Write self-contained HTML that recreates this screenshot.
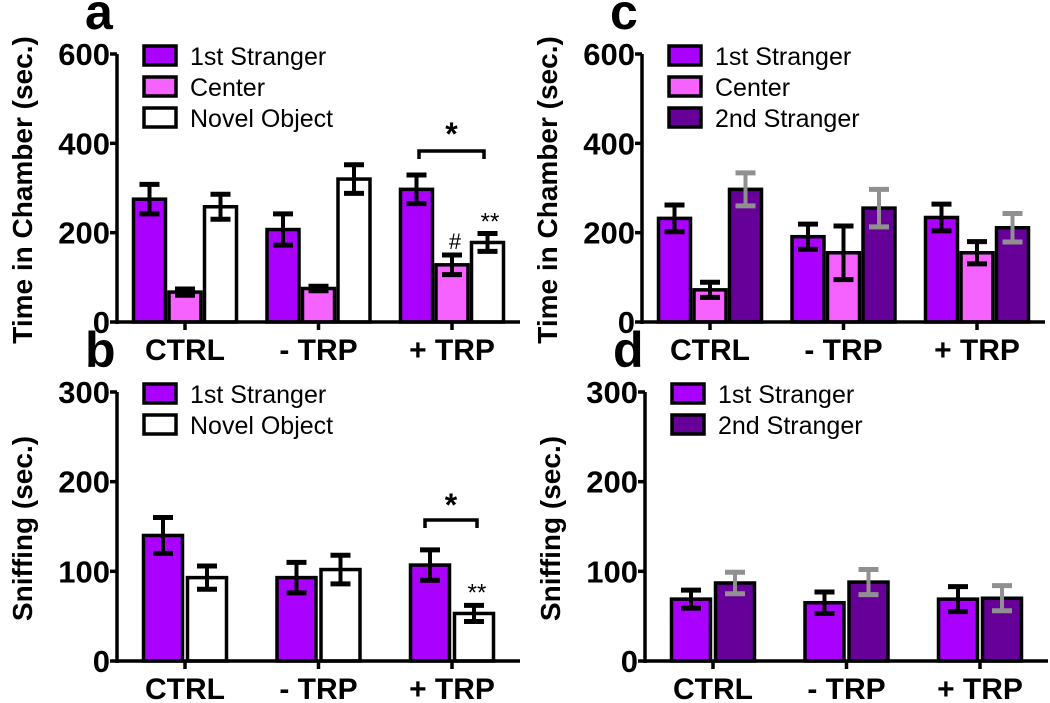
<!DOCTYPE html>
<html><head><meta charset="utf-8"><style>
html,body{margin:0;padding:0;background:#fff;width:1050px;height:703px;overflow:hidden}
svg text{font-family:"Liberation Sans",Arial,sans-serif}
</style></head><body>
<svg id="fig" width="1050" height="703" viewBox="0 0 1050 703" xmlns="http://www.w3.org/2000/svg"></svg>
<script>
const groups = ["CTRL", "- TRP", "+ TRP"];
const aSeries = ["1st Stranger", "Center", "Novel Object"];
const aMeans = [[275, 207, 297], [67, 75, 128], [258, 320, 178]];
const aErrs = [[33, 35, 32], [7, 5, 22], [28, 32, 20]];
const cSeries = ["1st Stranger", "Center", "2nd Stranger"];
const cMeans = [[232, 191, 234], [72, 155, 155], [297, 255, 211]];
const cErrs = [[30, 28, 30], [17, 60, 25], [37, 42, 32]];
const bSeries = ["1st Stranger", "Novel Object"];
const bMeans = [[140, 93, 107], [93, 102, 53]];
const bErrs = [[20, 17, 17], [13, 16, 9]];
const dSeries = ["1st Stranger", "2nd Stranger"];
const dMeans = [[69, 65, 69], [87, 88, 70]];
const dErrs = [[10, 12, 14], [12, 14, 14]];
const topTicks = [0, 200, 400, 600];
const botTicks = [0, 100, 200, 300];

const NS = "http://www.w3.org/2000/svg";
const svg = document.getElementById("fig");
const COL = {"1st Stranger":"#aa00ff","Center":"#f562ff","Novel Object":"#ffffff","2nd Stranger":"#660099"};
function mk(tag, attrs, parent){const e=document.createElementNS(NS,tag);for(const k in attrs)e.setAttribute(k,attrs[k]);(parent||svg).appendChild(e);return e;}

function panel(o){
  const g = mk("g",{});
  
  
  const ax=o.ax, y0=o.y0, yTop=o.yTop, max=o.ticks[o.ticks.length-1];
  const Y = v => y0 - (v/max)*(y0-yTop);
  const X = i => o.c0 + i*o.gstep;
  const lt = mk("text",{x:ax-32,y:yTop-25,"font-size":50,"font-weight":"bold"},g); lt.textContent=o.letter;
  
  
  const yt = mk("text",{x:0,y:0,"font-size":28,"font-weight":"bold","text-anchor":"middle",transform:`translate(${ax-85},${(y0+yTop)/2+2}) rotate(-90)`},g); yt.textContent=o.ytitle;
  
  
  const n=o.series.length;
  o.series.forEach((s,si)=>{
    groups.forEach((gname,gi)=>{
      const v=o.means[si][gi], e=o.errs[si][gi];
      const x = X(gi) - (n*o.step)/2 + si*o.step + (o.step-o.bw)/2;
      const r = mk("rect",{x:x,y:Y(v),width:o.bw,height:y0-Y(v),fill:COL[s],stroke:"#000","stroke-width":3.5},g);
      
      
      const ec = s==="2nd Stranger" ? "#909090" : "#000";
      const cx = x+o.bw/2;
      mk("line",{x1:cx,x2:cx,y1:Y(v+e),y2:Y(v-e),stroke:ec,"stroke-width":4},g);
      mk("line",{x1:cx-10,x2:cx+10,y1:Y(v+e),y2:Y(v+e),stroke:ec,"stroke-width":5},g);
      mk("line",{x1:cx-10,x2:cx+10,y1:Y(v-e),y2:Y(v-e),stroke:ec,"stroke-width":5},g);
    });
  });
  mk("line",{x1:ax,x2:ax,y1:yTop,y2:y0+2,stroke:"#000","stroke-width":3.5},g);
  mk("line",{x1:ax,x2:ax+403,y1:y0,y2:y0,stroke:"#000","stroke-width":3.5},g);
  o.ticks.forEach(t=>{
    mk("line",{x1:ax-7,x2:ax,y1:Y(t),y2:Y(t),stroke:"#000","stroke-width":3.5},g);
    const tx=mk("text",{x:ax-7,y:Y(t)+11,"font-size":31,"font-weight":"bold","text-anchor":"end"},g); tx.textContent=t;
    
    
  });
  groups.forEach((gname,gi)=>{
    mk("line",{x1:X(gi),x2:X(gi),y1:y0,y2:y0+8,stroke:"#000","stroke-width":3.5},g);
    const tx=mk("text",{x:X(gi),y:y0+38,"font-size":30,"font-weight":"bold","text-anchor":"middle"},g); tx.textContent=gname;
    
    
  });
  o.series.forEach((s,si)=>{
    const ly = yTop + 1 + si*31;
    mk("rect",{x:ax+27,y:ly-9,width:32,height:19,fill:COL[s],stroke:"#000","stroke-width":3.5},g);
    const tx=mk("text",{x:ax+73,y:ly+10,"font-size":25},g); tx.textContent=s;
    
    
  });
  if(o.extra) o.extra(g,X,Y);
}
function bracket(g,x1,x2,y,starY){
  mk("path",{d:`M${x1},${y+8} V${y} H${x2} V${y+8}`,fill:"none",stroke:"#000","stroke-width":3.5},g);
  const t=mk("text",{x:(x1+x2)/2,y:starY,"font-size":32,"font-weight":"bold","text-anchor":"middle"},g); t.textContent="*";
}
panel({letter:"a",ax:117,y0:322,yTop:54,ticks:topTicks,series:aSeries,means:aMeans,errs:aErrs,c0:185,gstep:133.5,step:35.5,bw:32,ytitle:"Time in Chamber (sec.)",
  extra:(g,X,Y)=>{bracket(g,419,484,151,145);
    let t=mk("text",{x:455,y:Y(128+22)-6,"font-size":22,"text-anchor":"middle"},g);t.textContent="#";
    t=mk("text",{x:490,y:Y(178+20)-4,"font-size":24,"text-anchor":"middle"},g);t.textContent="**";}});
panel({letter:"c",ax:642,y0:322,yTop:54,ticks:topTicks,series:cSeries,means:cMeans,errs:cErrs,c0:710,gstep:133.5,step:35.5,bw:32,ytitle:"Time in Chamber (sec.)"});
panel({letter:"b",ax:117,y0:661,yTop:392,ticks:botTicks,series:bSeries,means:bMeans,errs:bErrs,c0:185,gstep:133.5,step:44,bw:39,ytitle:"Sniffing (sec.)",
  extra:(g,X,Y)=>{bracket(g,425,477,520,516);
    const t=mk("text",{x:477,y:Y(53+9)-5,"font-size":24,"text-anchor":"middle"},g);t.textContent="**";}});
panel({letter:"d",ax:645,y0:661,yTop:392,ticks:botTicks,series:dSeries,means:dMeans,errs:dErrs,c0:713,gstep:133.5,step:44,bw:39,ytitle:"Sniffing (sec.)"});
</script>
</body></html>
